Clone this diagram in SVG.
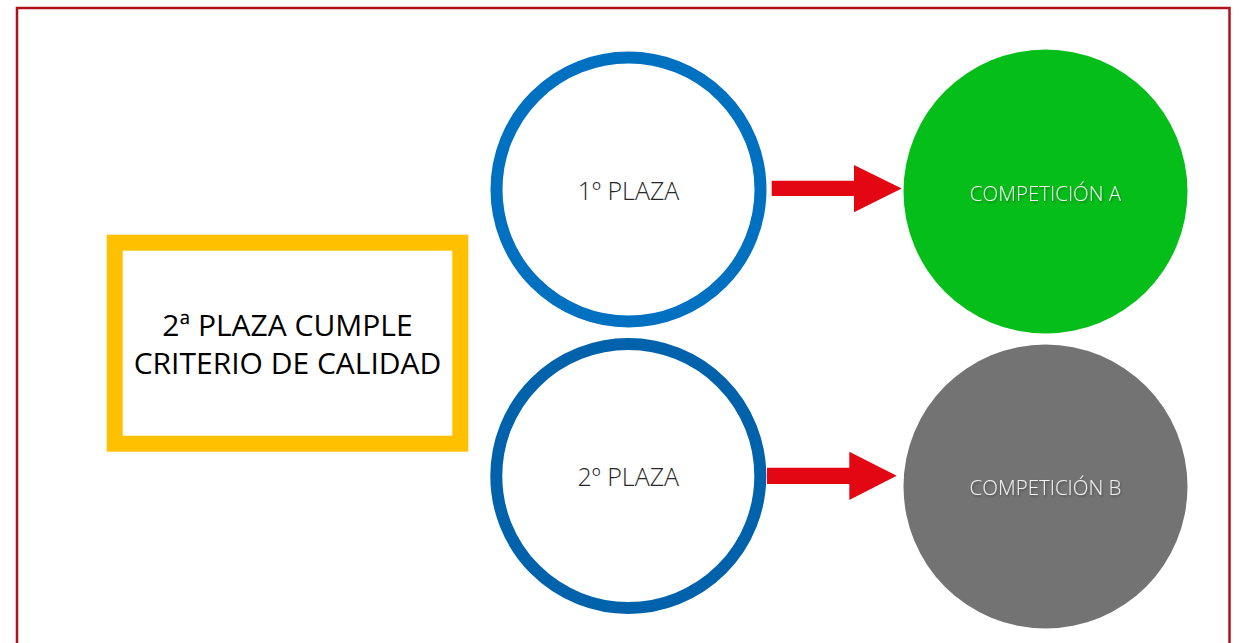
<svg xmlns="http://www.w3.org/2000/svg" width="1242" height="643" viewBox="0 0 1242 643">
  <defs>
    <style>
      .frame { fill: none; stroke: #B0121C; stroke-width: 2.5; }
      .ring { fill: #FFFFFF; stroke-width: 12; }
      .lbl { font-family: "Open Sans", "Noto Sans", "Liberation Sans", sans-serif; text-anchor: middle; }
      .dark { fill: #262626; font-size: 25px; font-weight: 300; }
      .light { fill: #F2F2F2; font-size: 20.5px; font-weight: 300; filter: url(#shadow); }
      .arrow { fill: #E30613; }
    </style>
    <filter id="shadow" x="-10%" y="-30%" width="120%" height="160%">
      <feDropShadow dx="1" dy="1.5" stdDeviation="1.2" flood-color="#000000" flood-opacity="0.35"/>
    </filter>
  </defs>
  <rect x="0" y="0" width="1242" height="643" fill="#FFFFFF"/>
  <rect class="frame" x="17" y="8" width="1212.5" height="660"/>

  <g id="criterio">
    <rect x="114.7" y="242.7" width="345.6" height="201" fill="#FFFFFF" stroke="#FFC000" stroke-width="16"/>
    <text class="lbl" x="287.5" y="336" font-size="30" fill="#000000">2ª PLAZA CUMPLE</text>
    <text class="lbl" x="287.5" y="374" font-size="30" fill="#000000">CRITERIO DE CALIDAD</text>
  </g>

  <g id="plaza1">
    <circle class="ring" cx="628.5" cy="189.5" r="132" stroke="#0070C0"/>
    <text class="lbl dark" x="628.5" y="200">1º PLAZA</text>
  </g>

  <g id="plaza2">
    <circle class="ring" cx="628.3" cy="476" r="132" stroke="#0062AA"/>
    <text class="lbl dark" x="628.3" y="486">2º PLAZA</text>
  </g>

  <g id="competicionA">
    <circle cx="1045.5" cy="191.5" r="142" fill="#06BE19"/>
    <text class="lbl light" x="1045.5" y="201">COMPETICIÓN A</text>
  </g>

  <g id="competicionB">
    <circle cx="1045.5" cy="486.5" r="142" fill="#737373"/>
    <text class="lbl light" x="1045.5" y="495">COMPETICIÓN B</text>
  </g>

  <g id="connectors">
    <polygon class="arrow" points="771.7,180.7 854,180.7 854,165 901.7,188.5 854,212.3 854,196 771.7,196"/>
    <polygon class="arrow" points="767,467.7 849.3,467.7 849.3,451.7 896.7,475.8 849.3,500 849.3,484 767,484"/>
  </g>
</svg>
